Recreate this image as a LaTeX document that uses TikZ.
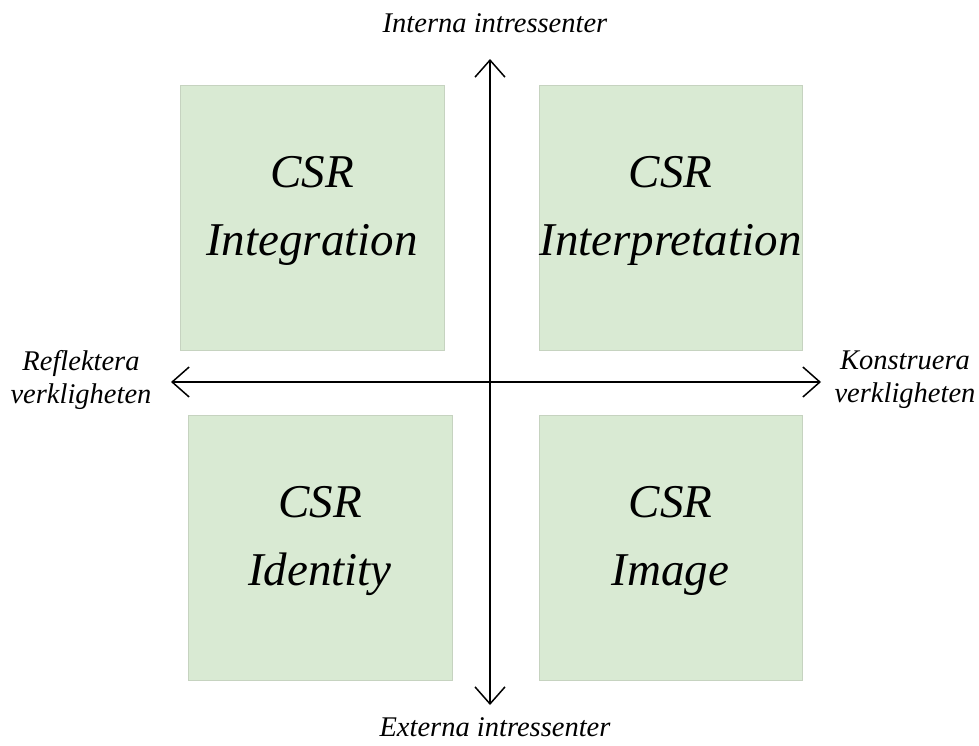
\documentclass[tikz,border=0pt]{standalone}
\usepackage{fontspec}
\setmainfont{Liberation Serif}
\usepackage{xcolor}
\usetikzlibrary{arrows.meta, positioning}

\definecolor{boxgreen}{HTML}{D9EAD3}
\definecolor{boxedge}{HTML}{C6D3C0}

\tikzset{
    quad/.style={fill=boxgreen, draw=boxedge, line width=0.8pt, minimum width=264pt, minimum height=265pt, inner sep=0pt},
    quadtext/.style={align=center, inner sep=0pt, font=\fontsize{47}{68}\selectfont\itshape},
    axis/.style={line width=1.5pt, {Straight Barb[length=17pt, width=30pt, line width=1.5pt]}-{Straight Barb[length=17pt, width=30pt, line width=1.5pt]}},
    axislabel/.style={align=center, inner sep=0pt, font=\fontsize{28.5}{33}\selectfont\itshape}
}

\begin{document}
\begin{tikzpicture}[x=1pt, y=-1pt]
    \useasboundingbox (0,0) rectangle (979,745);

    % de fyra fälten
    \node[quad] (integration) at (312,217.5) {};
    \node[quad, minimum width=263pt] (interpretation) at (670.5,217.5) {};
    \node[quad] (identity) at (320,548) {};
    \node[quad, minimum width=263pt] (image) at (670.5,548) {};

    \node[quadtext] (integrationtext) at ([yshift=7pt]integration.center) {CSR\\Integration};
    \node[quadtext] (interpretationtext) at ([yshift=7pt]interpretation.center) {CSR\\Interpretation};
    \node[quadtext] (identitytext) at ([yshift=7pt]identity.center) {CSR\\Identity};
    \node[quadtext] (imagetext) at ([yshift=7pt]image.center) {CSR\\Image};

    % axlarnas ändpunkter
    \coordinate (top) at (490,59);
    \coordinate (bottom) at (490,705);
    \coordinate (left) at (171,382);
    \coordinate (right) at (821,382);

    \draw[axis] (bottom) -- (top);
    \draw[axis] (left) -- (right);

    % etiketter vid axlarna
    \node[axislabel, anchor=base] (internal) at (495,32) {Interna intressenter};
    \node[axislabel, anchor=base] (external) at (495,736) {Externa intressenter};
    \node[axislabel] (reflect) at (81,380) {Reflektera\\verkligheten};
    \node[axislabel] (construct) at (905,380) {Konstruera\\verkligheten};
\end{tikzpicture}
\end{document}
